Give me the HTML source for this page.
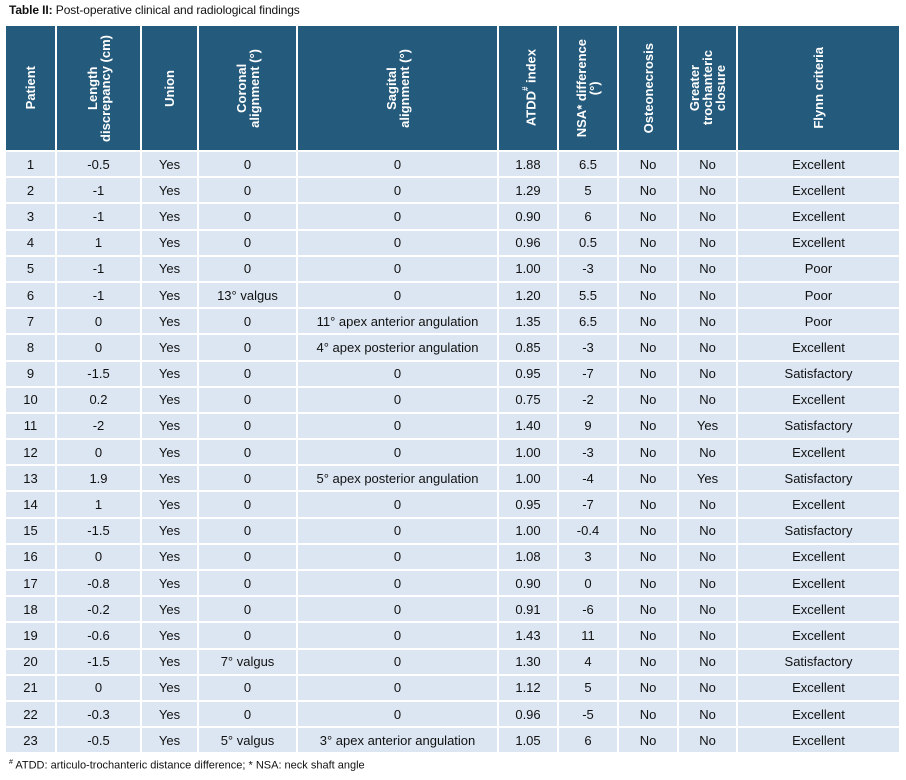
<!DOCTYPE html>
<html><head><meta charset="utf-8"><style>
body{margin:0;width:906px;height:780px;background:#fff;font-family:"Liberation Sans",Arial,sans-serif;color:#111;position:relative;overflow:hidden}
.title{position:absolute;left:9px;top:3px;font-size:12px;letter-spacing:-0.1px}
table{position:absolute;left:4px;top:24px;border-collapse:collapse;table-layout:fixed;width:895px}
td,th{border:2px solid #fff;padding:0;text-align:center;font-size:13px;overflow:hidden;white-space:nowrap}
th{background:#245a7c;color:#fff;height:124px;font-weight:bold;vertical-align:middle}
th div{writing-mode:vertical-rl;transform:rotate(180deg);margin:auto;line-height:13px;white-space:normal;text-align:center}
td{background:#dce6f2;height:24.2px}
.foot{position:absolute;left:9px;top:759px;font-size:11px}
</style></head><body>
<div class="title"><b>Table II:</b> Post-operative clinical and radiological findings</div>
<table>
<colgroup><col style="width:51px"><col style="width:85px"><col style="width:57px"><col style="width:99px"><col style="width:201px"><col style="width:60px"><col style="width:60px"><col style="width:60px"><col style="width:59px"><col style="width:163px"></colgroup>
<tr><th><div>Patient</div></th><th><div>Length<br>discrepancy (cm)</div></th><th><div>Union</div></th><th><div>Coronal<br>alignment (°)</div></th><th><div>Sagital<br>alignment (°)</div></th><th><div>ATDD<sup style="font-size:8px">#</sup> index</div></th><th><div>NSA* difference<br>(°)</div></th><th><div>Osteonecrosis</div></th><th><div>Greater<br>trochanteric<br>closure</div></th><th><div>Flynn criteria</div></th></tr>
<tr><td>1</td><td>-0.5</td><td>Yes</td><td>0</td><td>0</td><td>1.88</td><td>6.5</td><td>No</td><td>No</td><td>Excellent</td></tr>
<tr><td>2</td><td>-1</td><td>Yes</td><td>0</td><td>0</td><td>1.29</td><td>5</td><td>No</td><td>No</td><td>Excellent</td></tr>
<tr><td>3</td><td>-1</td><td>Yes</td><td>0</td><td>0</td><td>0.90</td><td>6</td><td>No</td><td>No</td><td>Excellent</td></tr>
<tr><td>4</td><td>1</td><td>Yes</td><td>0</td><td>0</td><td>0.96</td><td>0.5</td><td>No</td><td>No</td><td>Excellent</td></tr>
<tr><td>5</td><td>-1</td><td>Yes</td><td>0</td><td>0</td><td>1.00</td><td>-3</td><td>No</td><td>No</td><td>Poor</td></tr>
<tr><td>6</td><td>-1</td><td>Yes</td><td>13° valgus</td><td>0</td><td>1.20</td><td>5.5</td><td>No</td><td>No</td><td>Poor</td></tr>
<tr><td>7</td><td>0</td><td>Yes</td><td>0</td><td>11° apex anterior angulation</td><td>1.35</td><td>6.5</td><td>No</td><td>No</td><td>Poor</td></tr>
<tr><td>8</td><td>0</td><td>Yes</td><td>0</td><td>4° apex posterior angulation</td><td>0.85</td><td>-3</td><td>No</td><td>No</td><td>Excellent</td></tr>
<tr><td>9</td><td>-1.5</td><td>Yes</td><td>0</td><td>0</td><td>0.95</td><td>-7</td><td>No</td><td>No</td><td>Satisfactory</td></tr>
<tr><td>10</td><td>0.2</td><td>Yes</td><td>0</td><td>0</td><td>0.75</td><td>-2</td><td>No</td><td>No</td><td>Excellent</td></tr>
<tr><td>11</td><td>-2</td><td>Yes</td><td>0</td><td>0</td><td>1.40</td><td>9</td><td>No</td><td>Yes</td><td>Satisfactory</td></tr>
<tr><td>12</td><td>0</td><td>Yes</td><td>0</td><td>0</td><td>1.00</td><td>-3</td><td>No</td><td>No</td><td>Excellent</td></tr>
<tr><td>13</td><td>1.9</td><td>Yes</td><td>0</td><td>5° apex posterior angulation</td><td>1.00</td><td>-4</td><td>No</td><td>Yes</td><td>Satisfactory</td></tr>
<tr><td>14</td><td>1</td><td>Yes</td><td>0</td><td>0</td><td>0.95</td><td>-7</td><td>No</td><td>No</td><td>Excellent</td></tr>
<tr><td>15</td><td>-1.5</td><td>Yes</td><td>0</td><td>0</td><td>1.00</td><td>-0.4</td><td>No</td><td>No</td><td>Satisfactory</td></tr>
<tr><td>16</td><td>0</td><td>Yes</td><td>0</td><td>0</td><td>1.08</td><td>3</td><td>No</td><td>No</td><td>Excellent</td></tr>
<tr><td>17</td><td>-0.8</td><td>Yes</td><td>0</td><td>0</td><td>0.90</td><td>0</td><td>No</td><td>No</td><td>Excellent</td></tr>
<tr><td>18</td><td>-0.2</td><td>Yes</td><td>0</td><td>0</td><td>0.91</td><td>-6</td><td>No</td><td>No</td><td>Excellent</td></tr>
<tr><td>19</td><td>-0.6</td><td>Yes</td><td>0</td><td>0</td><td>1.43</td><td>11</td><td>No</td><td>No</td><td>Excellent</td></tr>
<tr><td>20</td><td>-1.5</td><td>Yes</td><td>7° valgus</td><td>0</td><td>1.30</td><td>4</td><td>No</td><td>No</td><td>Satisfactory</td></tr>
<tr><td>21</td><td>0</td><td>Yes</td><td>0</td><td>0</td><td>1.12</td><td>5</td><td>No</td><td>No</td><td>Excellent</td></tr>
<tr><td>22</td><td>-0.3</td><td>Yes</td><td>0</td><td>0</td><td>0.96</td><td>-5</td><td>No</td><td>No</td><td>Excellent</td></tr>
<tr><td>23</td><td>-0.5</td><td>Yes</td><td>5° valgus</td><td>3° apex anterior angulation</td><td>1.05</td><td>6</td><td>No</td><td>No</td><td>Excellent</td></tr>
</table>
<div class="foot"><sup style="font-size:7px">#</sup> ATDD: articulo-trochanteric distance difference; * NSA: neck shaft angle</div>
</body></html>
